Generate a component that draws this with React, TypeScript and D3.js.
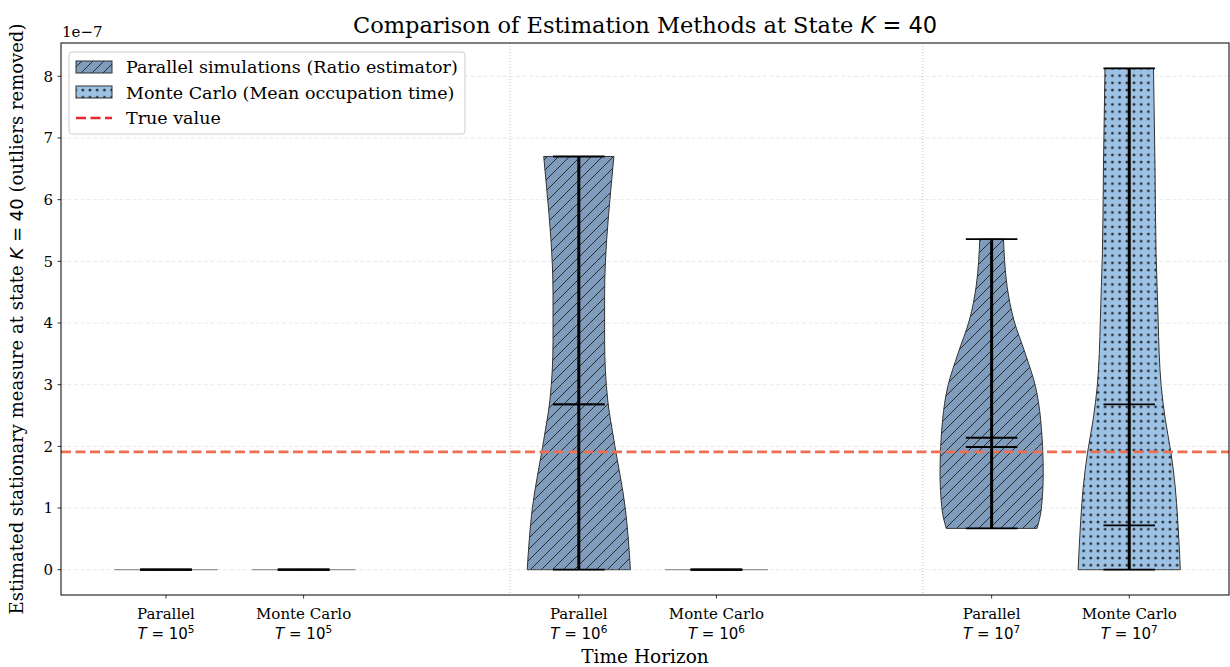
import React from "react";
import * as d3 from "d3";

// ---------- data ----------
const methods = ["Parallel", "Monte Carlo", "Parallel", "Monte Carlo", "Parallel", "Monte Carlo"];
const horizonExp = ["5", "5", "6", "6", "7", "7"];
const positions = [0, 1, 3, 4, 6, 7];
const kinds = ["par", "mc", "par", "mc", "par", "mc"];
const mins = [0, 0, 0, 0, 0.67, 0];
const maxs = [0, 0, 6.7, 0, 5.36, 8.13];
const means = [0, 0, 2.68, 0, 2.14, 2.68];
const medians = [0, 0, 2.68, 0, 1.99, 0.72];
// density profiles: [value (1e-7), relative half-width]
const profiles: [number, number][][] = [
  [[0, 1]],
  [[0, 1]],
  [[0, 1.0], [1.0, 0.9], [2.1, 0.68], [2.75, 0.56], [3.7, 0.5], [4.5, 0.5], [5.35, 0.54], [6.16, 0.62], [6.7, 0.68]],
  [[0, 1]],
  [[0.67, 0.88], [0.97, 0.96], [1.57, 1.0], [2.43, 0.95], [2.97, 0.85], [3.51, 0.65], [4.05, 0.43], [4.59, 0.3], [5.02, 0.25], [5.36, 0.23]],
  [[0, 0.99], [0.8, 0.94], [1.35, 0.89], [1.89, 0.81], [2.43, 0.7], [2.97, 0.62], [3.51, 0.58], [4.05, 0.56], [4.59, 0.54], [5.13, 0.52], [6.5, 0.5], [8.13, 0.47]],
];
const trueValue = 1.91;
const yTicks = [0, 1, 2, 3, 4, 5, 6, 7, 8];
const separators = [2.5, 5.5];
const legendLabels = ["Parallel simulations (Ratio estimator)", "Monte Carlo (Mean occupation time)", "True value"];

// ---------- layout ----------
const W = 1230, H = 667;
const L = 61, R = 1229, T = 43, B = 595;
const x = d3.scaleLinear().domain([-0.763, 7.725]).range([L, R]);
const y = d3.scaleLinear().domain([-0.41, 8.54]).range([B, T]);
const violinHalf = 0.375;
const capHalf = 0.1875;

const serif = "'DejaVu Serif', serif";
const sans = "'DejaVu Sans', sans-serif";
const parFill = "#7f9cbd";
const mcFill = "#9cc2e5";
const trueColor = "#ec6f52";

export default function App() {
  const px = (d: number) => x(d) - x(0);
  const area = (pos: number) =>
    d3
      .area<[number, number]>()
      .y((d) => y(d[0]))
      .x0((d) => x(pos) - d[1] * px(violinHalf))
      .x1((d) => x(pos) + d[1] * px(violinHalf))
      .curve(d3.curveMonotoneY);

  return (
    <svg width={W} height={H} style={{ display: "block", position: "absolute", left: 0, top: 0 }}>
      <defs>
        <pattern id="hatch" patternUnits="userSpaceOnUse" width="11" height="11">
          <path d="M0,11 L11,0 M-2,2 L2,-2 M9,13 L13,9" stroke="#2a2a2a" strokeWidth="1" />
        </pattern>
        <pattern id="dots" patternUnits="userSpaceOnUse" width="7.2" height="7.2">
          <circle cx="3.6" cy="3.6" r="1.4" fill="#2a2a2a" />
        </pattern>
        <clipPath id="plotclip">
          <rect x={L} y={T} width={R - L} height={B - T} />
        </clipPath>
      </defs>
      <rect width={W} height={H} fill="white" />

      {/* separators */}
      {separators.map((s, i) => (
        <line key={i} x1={x(s)} x2={x(s)} y1={T} y2={B} stroke="#b0b0b0" strokeWidth={0.8} strokeDasharray="1,2" />
      ))}

      {/* violins */}
      <g clipPath="url(#plotclip)">
        {positions.map((pos, i) => {
          const prof = profiles[i];
          const fill = kinds[i] === "par" ? parFill : mcFill;
          const pat = kinds[i] === "par" ? "url(#hatch)" : "url(#dots)";
          if (prof.length === 1) {
            return (
              <line key={i} x1={x(pos) - px(violinHalf)} x2={x(pos) + px(violinHalf)} y1={y(prof[0][0])} y2={y(prof[0][0])}
                stroke="#555" strokeWidth={1} opacity={0.8} />
            );
          }
          const d = area(pos)(prof) || "";
          return (
            <g key={i}>
              <path d={d} fill={fill} />
              <path d={d} fill={pat} />
              <path d={d} fill="none" stroke="#333" strokeWidth={1} />
            </g>
          );
        })}
      </g>

      {/* grid on top */}
      {yTicks.map((t) => (
        <line key={t} x1={L} x2={R} y1={y(t)} y2={y(t)} stroke="#b0b0b0" strokeOpacity={0.35} strokeWidth={0.8} strokeDasharray="4,2.5" />
      ))}

      {/* true value */}
      <line x1={L} x2={R} y1={y(trueValue)} y2={y(trueValue)} stroke={trueColor} strokeWidth={2.6} strokeDasharray="10,4.5" />

      {/* stats lines */}
      {positions.map((pos, i) => {
        const cx = x(pos);
        const cw = px(capHalf);
        const caps = [mins[i], maxs[i], means[i], medians[i]];
        return (
          <g key={i}>
            <line x1={cx} x2={cx} y1={y(mins[i])} y2={y(maxs[i])} stroke="black" strokeWidth={3} />
            {caps.map((c, j) => (
              <line key={j} x1={cx - cw} x2={cx + cw} y1={y(c)} y2={y(c)} stroke="black" strokeWidth={1.8} />
            ))}
          </g>
        );
      })}

      {/* axes frame */}
      <rect x={L} y={T} width={R - L} height={B - T} fill="none" stroke="black" strokeWidth={1} />

      {/* y ticks */}
      {yTicks.map((t) => (
        <g key={t}>
          <line x1={L - 3.5} x2={L} y1={y(t)} y2={y(t)} stroke="black" strokeWidth={0.8} />
          <text x={L - 8} y={y(t)} dy="0.35em" textAnchor="end" fontFamily={serif} fontSize={15}>
            {t}
          </text>
        </g>
      ))}
      <text x={L + 1} y={T - 6} fontFamily={serif} fontSize={15}>
        1e−7
      </text>

      {/* x ticks */}
      {positions.map((pos, i) => (
        <g key={i}>
          <line x1={x(pos)} x2={x(pos)} y1={B} y2={B + 3.5} stroke="black" strokeWidth={0.8} />
          <text x={x(pos)} y={B + 24} textAnchor="middle" fontFamily={serif} fontSize={15}>
            {methods[i]}
          </text>
          <text x={x(pos)} y={B + 44} textAnchor="middle" fontFamily={sans} fontSize={15}>
            <tspan fontStyle="italic">T</tspan>
            <tspan> = 10</tspan>
            <tspan fontSize={10.5} dy={-6.5}>{horizonExp[i]}</tspan>
          </text>
        </g>
      ))}

      {/* axis labels */}
      <text x={(L + R) / 2} y={663} textAnchor="middle" fontFamily={serif} fontSize={18.5}>
        Time Horizon
      </text>
      <text transform={`translate(23,${(T + B) / 2}) rotate(-90)`} textAnchor="middle" fontFamily={serif} fontSize={18}>
        Estimated stationary measure at state{" "}
        <tspan fontFamily={sans} fontStyle="italic">K</tspan>
        <tspan fontFamily={sans}> = 40</tspan> (outliers removed)
      </text>

      {/* title */}
      <text x={(L + R) / 2} y={33} textAnchor="middle" fontFamily={serif} fontSize={22.5}>
        Comparison of Estimation Methods at State{" "}
        <tspan fontFamily={sans} fontStyle="italic">K</tspan>
        <tspan fontFamily={sans}> = 40</tspan>
      </text>

      {/* legend */}
      <g>
        <rect x={69} y={52} width={396} height={82} rx={3} fill="white" fillOpacity={0.85} stroke="#cccccc" strokeWidth={1} />
        <rect x={76} y={61} width={36} height={12} fill={parFill} />
        <rect x={76} y={61} width={36} height={12} fill="url(#hatch)" />
        <rect x={76} y={61} width={36} height={12} fill="none" stroke="#333" strokeWidth={1} />
        <rect x={76} y={86} width={36} height={12} fill={mcFill} />
        <rect x={76} y={86} width={36} height={12} fill="url(#dots)" />
        <rect x={76} y={86} width={36} height={12} fill="none" stroke="#333" strokeWidth={1} />
        <line x1={76} x2={112} y1={118} y2={118} stroke="#e8282b" strokeWidth={2.6} strokeDasharray="10,4.5" />
        {legendLabels.map((l, i) => (
          <text key={i} x={126} y={67 + i * 25.5} dy="0.35em" fontFamily={serif} fontSize={17.5}>
            {l}
          </text>
        ))}
      </g>
    </svg>
  );
}
